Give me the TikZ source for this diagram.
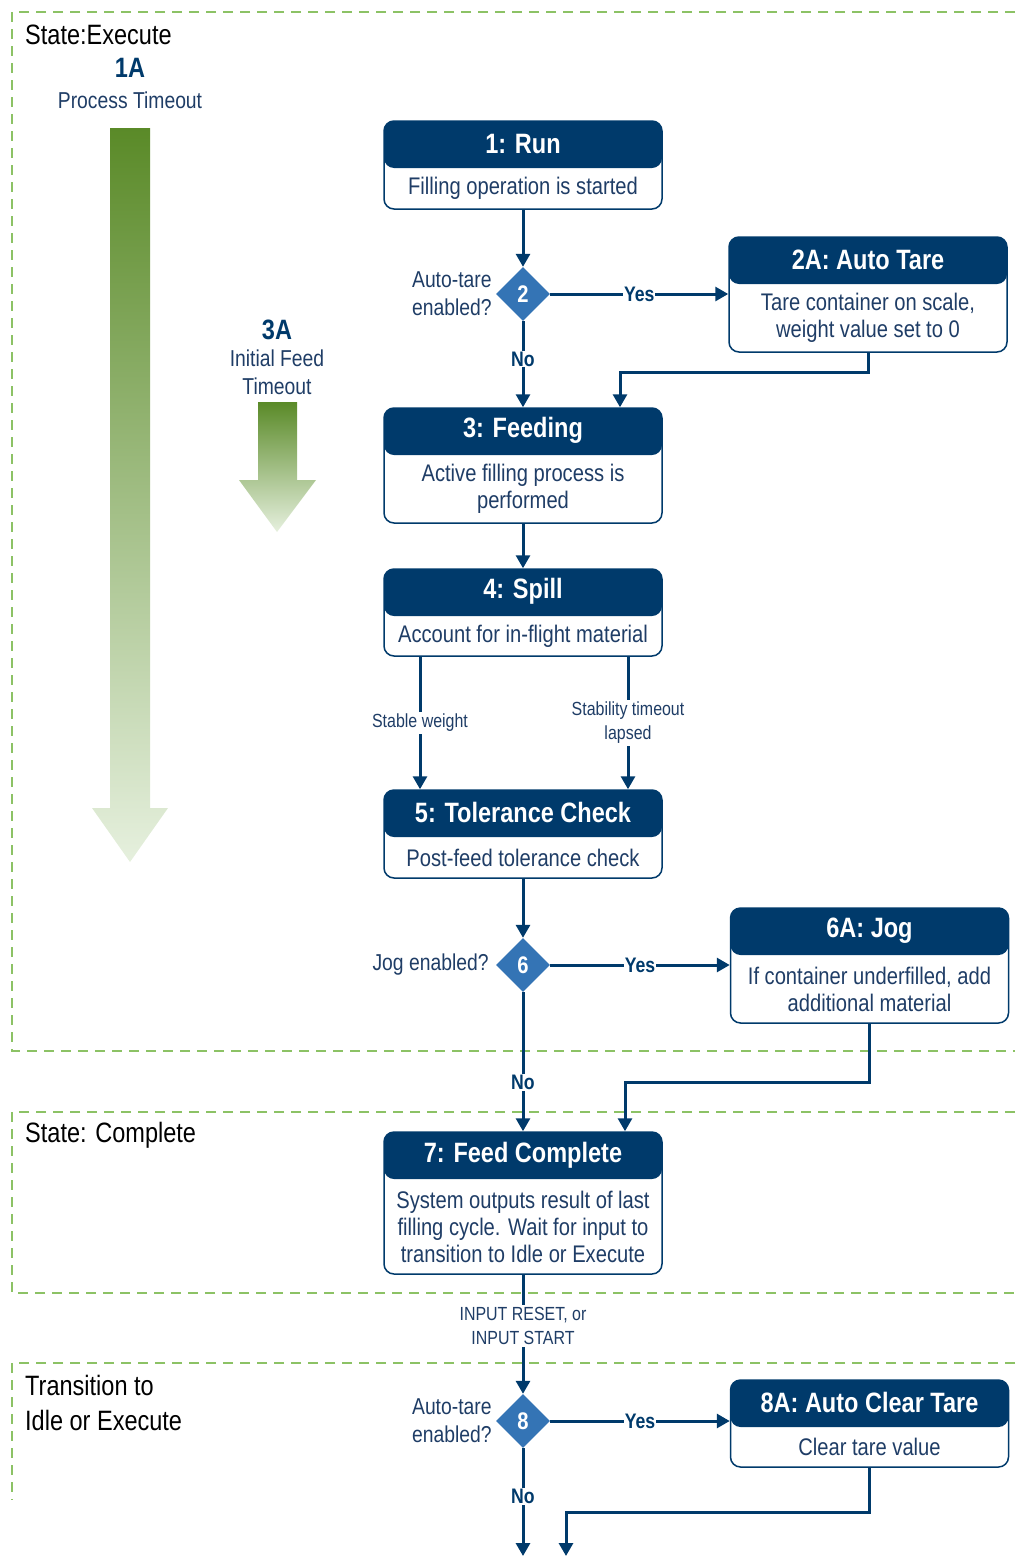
\documentclass[tikz,border=0pt]{standalone}
\usepackage{fontspec}
\setmainfont[FakeStretch=0.84]{Liberation Sans}
\usepackage{xcolor}
\usepackage{tikz}
\usetikzlibrary{positioning, calc, arrows.meta, shapes.geometric}

\definecolor{navy}{HTML}{003A6B}
\definecolor{diamblue}{HTML}{3474B5}
\definecolor{textblue}{HTML}{1F3D66}
\definecolor{zonegreen}{HTML}{8CC265}
\definecolor{greentop}{HTML}{5A8A28}
\definecolor{greenlow}{HTML}{E6F0DE}

\begin{document}
\begin{tikzpicture}[x=1pt, y=-1pt,
    card/.style={draw=navy, line width=1.5pt, rounded corners=10pt, fill=white,
        minimum width=278pt, inner sep=0pt,
        path picture={\fill[navy] (path picture bounding box.north west)
            rectangle ([yshift=-47pt]path picture bounding box.north east);}},
    cardtitle/.style={text=white, font=\bfseries\fontsize{28}{30}\selectfont, inner sep=0pt},
    cardtext/.style={text=textblue, align=center, font=\fontsize{24}{27}\selectfont, inner sep=0pt},
    decision/.style={diamond, fill=diamblue, minimum width=54pt, minimum height=54pt,
        inner sep=0pt, text=white, font=\bfseries\fontsize{24}{24}\selectfont},
    question/.style={text=textblue, align=center, font=\fontsize{23}{28}\selectfont, inner sep=1pt},
    flow/.style={draw=navy, line width=3pt, -{Triangle[length=13pt, width=14pt]}},
    branch/.style={fill=white, text=navy, inner sep=1pt, font=\bfseries\fontsize{21}{21}\selectfont},
    cond/.style={fill=white, text=textblue, align=center, inner sep=2pt, font=\fontsize{19}{24}\selectfont},
    zone/.style={draw=zonegreen, line width=2pt, dash pattern=on 10pt off 7pt},
    zonetitle/.style={anchor=west, align=left, font=\fontsize{28}{35}\selectfont, inner sep=0pt},
    timeid/.style={text=navy, font=\bfseries\fontsize{28}{28}\selectfont, inner sep=0pt},
    timetext/.style={text=textblue, align=center, font=\fontsize{23}{28}\selectfont, inner sep=0pt}]

    \useasboundingbox (0,0) rectangle (1015,1558);

    % State zones
    \draw[zone] (1015,12) -- (12,12) -- (12,1051) -- (1015,1051);
    \draw[zone] (1015,1112) -- (12,1112) -- (12,1293) -- (1015,1293);
    \draw[zone] (1015,1363) -- (12,1363) -- (12,1500);
    \node[zonetitle] (execute) at (25,35) {State:Execute};
    \node[zonetitle] (complete) at (25,1135) {State: Complete};
    \node[zonetitle] (transition) at (25,1403) {Transition to\\Idle or Execute};

    % Timeouts
    \node[timeid] (t1a) at (130,68) {1A};
    \node[timetext] (t1atext) at (130,100) {Process Timeout};
    \shade[top color=greentop, bottom color=greenlow]
        (110,128) -- (150,128) -- (150,808) -- (168,808) -- (130,862) -- (92,808) -- (110,808) -- cycle;
    \node[timeid] (t3a) at (277,330) {3A};
    \node[timetext] (t3atext) at (277,372) {Initial Feed\\Timeout};
    \shade[top color=greentop, bottom color=greenlow]
        (258,402) -- (297,402) -- (297,480) -- (316,480) -- (277,532) -- (239,480) -- (258,480) -- cycle;

    % Main column
    \node[card, minimum height=88pt] (run) at (523,165) {};
    \node[cardtitle] (runt) at ([yshift=-23.5pt]run.north) {1: Run};
    \node[cardtext] (runb) at ([yshift=-23.5pt]run.center) {Filling operation is started};

    \node[decision] (d2) at (523,294) {2};
    \node[question, left=3pt of d2] (q2) {Auto-tare\\enabled?};

    \node[card, minimum height=115pt] (feed) at (523,465.5) {};
    \node[cardtitle] (feedt) at ([yshift=-23.5pt]feed.north) {3: Feeding};
    \node[cardtext] (feedb) at ([yshift=-23.5pt]feed.center) {Active filling process is\\performed};

    \node[card, minimum height=87pt] (spill) at (523,612.5) {};
    \node[cardtitle] (spillt) at ([yshift=-23.5pt]spill.north) {4: Spill};
    \node[cardtext] (spillb) at ([yshift=-23.5pt]spill.center) {Account for in-flight material};

    \node[card, minimum height=88pt] (tol) at (523,834) {};
    \node[cardtitle] (tolt) at ([yshift=-23.5pt]tol.north) {5: Tolerance Check};
    \node[cardtext] (tolb) at ([yshift=-23.5pt]tol.center) {Post-feed tolerance check};

    \node[decision] (d6) at (523,965) {6};
    \node[question, left=6pt of d6] (q6) {Jog enabled?};

    \node[card, minimum height=142pt] (done) at (523,1203) {};
    \node[cardtitle] (donet) at ([yshift=-23.5pt]done.north) {7: Feed Complete};
    \node[cardtext] (doneb) at ([yshift=-23.5pt]done.center) {System outputs result of last\\filling cycle. Wait for input to\\transition to Idle or Execute};

    \node[decision] (d8) at (523,1421) {8};
    \node[question, left=3pt of d8] (q8) {Auto-tare\\enabled?};

    \coordinate (out1) at (523,1556);
    \coordinate (out2) at (566,1556);

    % Side column
    \node[card, minimum height=115pt] (tare) at (868,294.5) {};
    \node[cardtitle] (taret) at ([yshift=-23.5pt]tare.north) {2A: Auto Tare};
    \node[cardtext] (tareb) at ([yshift=-23.5pt]tare.center) {Tare container on scale,\\weight value set to 0};

    \node[card, minimum height=115pt] (jog) at (869.5,965.5) {};
    \node[cardtitle] (jogt) at ([yshift=-23.5pt]jog.north) {6A: Jog};
    \node[cardtext] (jogb) at ([yshift=-23.5pt]jog.center) {If container underfilled, add\\additional material};

    \node[card, minimum height=87pt] (clear) at (869.5,1423.5) {};
    \node[cardtitle] (cleart) at ([yshift=-23.5pt]clear.north) {8A: Auto Clear Tare};
    \node[cardtext] (clearb) at ([yshift=-23.5pt]clear.center) {Clear tare value};

    % Connectors
    \draw[flow] (run.south) -- (d2.north);
    \draw[flow] (d2.east) -- node[branch] {Yes} (d2.east -| tare.west);
    \draw[flow] (d2.south) -- node[branch, pos=0.44] {No} (feed.north);
    \draw[flow] (tare.south) -- ++(0,20) -| ([xshift=97pt]feed.north);
    \draw[flow] (feed.south) -- (spill.north);
    \draw[flow] ([xshift=-103pt]spill.south) -- node[cond] {Stable weight} ([xshift=-103pt]tol.north);
    \draw[flow] ([xshift=105pt]spill.south) -- node[cond] {Stability timeout\\lapsed} ([xshift=105pt]tol.north);
    \draw[flow] (tol.south) -- (d6.north);
    \draw[flow] (d6.east) -- node[branch] {Yes} (d6.east -| jog.west);
    \draw[flow] (d6.south) -- node[branch, pos=0.65] {No} (done.north);
    \draw[flow] (jog.south) -- ++(0,59) -| ([xshift=102pt]done.north);
    \draw[flow] (done.south) -- node[cond, pos=0.43] {INPUT RESET, or\\INPUT START} (d8.north);
    \draw[flow] (d8.east) -- node[branch] {Yes} (d8.east -| clear.west);
    \draw[flow] (d8.south) -- node[branch, pos=0.45] {No} (out1);
    \draw[flow] (clear.south) -- ++(0,45) -| (out2);

\end{tikzpicture}
\end{document}
